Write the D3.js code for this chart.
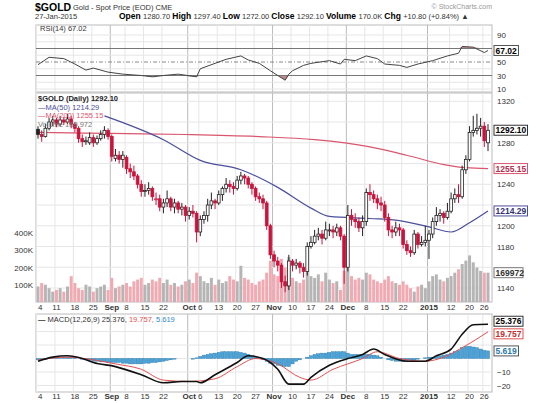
<!DOCTYPE html>
<html><head><meta charset="utf-8">
<script src="https://cdn.jsdelivr.net/npm/d3@7"></script>
<style>
body{margin:0;background:#fff;}
text{font-family:"Liberation Sans",Arial,sans-serif;}
.tick text{font-size:8px;fill:#333;}
.tick line{stroke:none;}
.domain{display:none;}
</style></head>
<body><svg id="chart" width="550" height="403"></svg>
<script>
// daily OHLC, Aug 4 2014 .. Jan 27 2015
var ohlc = [
  [1293,1296,1284,1288],[1288,1292,1281,1286],[1286,1298,1285,1294],[1294,1304,1292,1300],[1300,1306,1296,1302],
  [1302,1304,1295,1298],[1298,1306,1296,1302],[1302,1305,1297,1300],[1300,1308,1298,1303],[1303,1306,1294,1298],
  [1298,1300,1290,1294],[1294,1296,1280,1284],[1284,1288,1276,1281],[1281,1286,1278,1282],[1280,1290,1278,1285],
  [1285,1288,1276,1280],[1280,1287,1278,1284],[1284,1292,1282,1288],[1288,1296,1284,1292],[1292,1294,1283,1286],
  [1286,1288,1262,1267],[1265,1274,1262,1268],[1268,1272,1260,1264],[1264,1272,1256,1268],
  [1266,1268,1250,1255],[1255,1260,1246,1252],[1252,1258,1244,1248],[1248,1250,1236,1240],[1240,1244,1228,1233],
  [1233,1240,1228,1234],[1234,1242,1230,1236],[1236,1238,1224,1228],[1226,1232,1220,1226],[1226,1230,1214,1218],
  [1218,1226,1212,1222],[1222,1234,1218,1226],[1226,1228,1214,1218],[1218,1226,1212,1222],[1222,1224,1212,1216],
  [1216,1222,1210,1218],[1218,1220,1204,1210],[1210,1218,1206,1214],[1214,1220,1208,1212],[1212,1214,1184,1194],
  [1194,1210,1190,1206],[1206,1214,1202,1210],[1210,1226,1204,1220],[1220,1232,1216,1224],[1224,1226,1216,1222],
  [1222,1234,1220,1230],[1230,1238,1224,1236],[1236,1246,1232,1240],[1240,1244,1232,1238],[1238,1242,1230,1236],
  [1236,1248,1234,1244],[1244,1252,1240,1248],[1248,1250,1240,1246],[1246,1248,1236,1240],[1240,1242,1230,1236],
  [1236,1238,1224,1228],[1228,1232,1222,1226],[1226,1230,1216,1222],[1222,1224,1196,1200],[1200,1202,1168,1172],
  [1172,1176,1160,1166],[1166,1170,1156,1162],[1162,1164,1140,1146],[1146,1152,1136,1142],[1142,1172,1138,1166],
  [1166,1168,1156,1162],[1162,1168,1158,1164],[1164,1166,1154,1160],[1160,1164,1150,1156],[1156,1184,1152,1180],
  [1180,1190,1178,1184],[1184,1196,1182,1190],[1190,1198,1186,1192],[1192,1196,1182,1188],[1188,1204,1186,1196],
  [1196,1202,1190,1196],[1196,1200,1188,1194],[1194,1202,1190,1198],[1198,1200,1186,1190],[1190,1192,1144,1160],
  [1160,1220,1156,1210],[1210,1216,1200,1206],[1206,1212,1198,1204],[1204,1208,1194,1198],[1198,1210,1190,1204],
  [1204,1236,1200,1232],[1232,1240,1224,1230],[1230,1234,1222,1226],[1226,1230,1216,1222],[1222,1228,1214,1220],
  [1220,1224,1204,1208],[1208,1212,1190,1196],[1196,1200,1188,1194],[1194,1204,1190,1198],[1198,1202,1190,1196],
  [1196,1198,1178,1182],[1182,1186,1172,1176],[1176,1180,1170,1174],[1174,1196,1172,1192],
  [1192,1194,1178,1182],[1182,1190,1180,1184],[1184,1200,1180,1186],[1186,1196,1168,1192],
  [1192,1208,1188,1204],[1204,1218,1200,1210],[1210,1216,1204,1212],[1212,1214,1202,1208],[1208,1222,1206,1214],
  [1214,1232,1212,1226],[1226,1236,1222,1230],[1230,1240,1222,1228],[1228,1258,1226,1254],[1254,1268,1250,1264],
  [1264,1296,1262,1290],[1290,1306,1286,1292],[1292,1308,1288,1294],[1294,1304,1286,1296],
  [1296,1300,1276,1282],[1280,1298,1272,1292]
];
// volume, thousands
var volume = [
  90,110,100,80,60, 70,80,60,90,150, 110,80,70,100,90, 60,80,90,100,70,
  140,80,90,100, 110,90,120,130,140, 100,110,130,120,140, 110,130,100,110,90,
  100,120,130,110,170, 150,120,110,140,100, 130,110,120,150,130, 120,210,140,130,110,
  100,120,130,170,240, 160,150,250,200,260, 140,120,110,130,180, 150,140,160,120,170,
  130,110,120,70,180, 220,150,130,140,130, 170,160,130,120,110, 130,150,120,110,100,
  120,100,80,60, 90,100,80,120, 150,160,130,120,140, 150,170,190,220,240,
  270,230,200,180, 170,170
];
var holidays = ["2014-09-01", "2014-12-25", "2015-01-01", "2015-01-19"];
// indicator readings [day index, value]
var rsi = [[0,46],[3,57],[7,55],[10,47],[13,38],[15,41],[19,35],[23,32],[28,30],[31,28],[34,30],[38,32],
  [43,28],[44,40],[48,48],[51,54],[55,59],[57,53],[60,48],[63,37],[65,30],[67,23],[68,32],[69,37],[72,45],
  [74,48],[79,52],[82,47],[83,54],[86,52],[89,59],[92,55],[94,47],[98,45],[100,42],[103,47],[107,52],
  [111,59],[114,63],[115,73],[118,72],[121,64],[122,67.02]];
var ma50 = [[18,1306],[34,1283],[44,1263],[55,1254],[65,1237],[74,1217],[79,1209],[90,1207],[98,1205],
  [106,1199],[112,1194],[117,1203],[122,1214.29]];
var ma200 = [[0,1290],[20,1289],[40,1288],[60,1286],[75,1283],[90,1276],[100,1268],[110,1259],[116,1256],[122,1255.15]];
var macd = [[0,-2],[4,1],[8,2],[12,0],[15,-3],[21,-6],[28,-12],[34,-18],[39,-17],[43,-17],[44,-18],[48,-12],
  [54,-3],[57,2],[61,0],[65,-8],[68,-19],[72,-19],[74,-14],[79,-5],[84,0],[88,3],[91,7],[94,3],[100,-2],
  [105,-2],[108,2],[112,7],[115,18],[118,25],[122,25.376]];
var signal = [[0,-1],[8,1],[15,-1],[21,-4],[28,-8],[34,-16],[41,-17],[48,-15],[54,-6],[59,0],[65,-4],
  [71,-14],[74,-16],[80,-8],[88,0],[92,5],[98,0],[105,-2],[110,1],[115,8],[122,19.757]];
var hist = [
  -1,-1,-0.5,0,0.3,0.6,0.8,1, 1,0.8,0.5,0,-0.5,-1, -1.5,-2,-2,-2.5,-2.5,-3,-3,
  -3,-3,-3.5,-3.5,-4,-4,-4, -4,-3.5,-3.5,-3,-3,-2.5,-2, -1.5,-1,-0.5,0,0,0,
  0,-0.5,0.5,1.5,2.5,3, 3.5,4,4.5,5,5, 5,5,5,4.5,4,3,2, 1,0,-1,-2,-3.5,
  -4,-5,-5.5,-6,-6, -4,-2,-1,0, 1,2,3,3.5,4,4,4.5, 5,5,5,5,4,3,3,3,
  3,3,3,2.5,2,1, 0,-1,-1.5,-2,-2, -2,-1.5,-1,-1,-0.5,0,0.5,1,
  1,1.5,2,2.5,3,4,5,6, 8,9,9,8.5,8,7,6,5.619
];
var priceTicks = [1140,1160,1180,1200,1220,1240,1260,1280,1300,1320];
var volTicks = [100,200,300,400];
var rsiTicks = [10,30,50,90];
var macdTicks = [-20,-10,0,10];

// trading days
var dates = [];
for (var d = new Date(2014, 7, 4); d <= new Date(2015, 0, 27); d.setDate(d.getDate() + 1)) {
  var iso = d3.timeFormat("%Y-%m-%d")(d);
  if (d.getDay() > 0 && d.getDay() < 6 && holidays.indexOf(iso) < 0) dates.push(new Date(d));
}
var N = ohlc.length;

var svg = d3.select("#chart");
var L = 36, R = 492;
var x = d3.scaleLinear().domain([0, N - 1]).range([L + 2, R - 4]);

// date labels: month name on first trading day, weekly otherwise
var dateLabels = [];
dates.forEach(function(dt, i) {
  var prev = dates[i - 1];
  var last = dateLabels[dateLabels.length - 1];
  if (!prev) {
    dateLabels.push([i, "4", false]);
  } else if (dt.getMonth() != prev.getMonth()) {
    if (last && i - last[0] < 4) dateLabels.pop();
    dateLabels.push([i, dt.getMonth() == 0 ? "2015" : d3.timeFormat("%b")(dt), true]);
  } else if (prev.getDay() >= dt.getDay()) {
    if (i - last[0] >= 3) dateLabels.push([i, String(dt.getDate()), false]);
  }
});

function panel(top, bottom) {
  var g = svg.append("g");
  g.append("rect").attr("x", L).attr("y", top).attr("width", R - L).attr("height", bottom - top)
    .attr("fill", "#fff").attr("stroke", "#bbb");
  dateLabels.forEach(function(dl) {
    g.append("line").attr("x1", x(dl[0]) - 1.5).attr("x2", x(dl[0]) - 1.5).attr("y1", top).attr("y2", bottom)
      .attr("stroke", dl[2] ? "#bbb" : "#e6e6e6");
  });
  return g;
}
function hgrid(g, y, ticks, color) {
  ticks.forEach(function(t) {
    g.append("line").attr("x1", L).attr("x2", R).attr("y1", y(t)).attr("y2", y(t)).attr("stroke", color || "#e6e6e6");
  });
}
function dateAxis(yPos) {
  dateLabels.forEach(function(dl) {
    svg.append("text").attr("x", x(dl[0])).attr("y", yPos).attr("text-anchor", dl[0] == 0 ? "start" : "middle")
      .attr("font-size", 8).attr("font-weight", dl[2] ? "bold" : "normal").attr("fill", "#333").text(dl[1]);
  });
}
function tag(xp, yp, txt, stroke, color) {
  var w = txt.length * 4.5 + 2;
  svg.append("rect").attr("x", xp).attr("y", yp - 5).attr("width", w).attr("height", 10)
    .attr("fill", "#fff").attr("stroke", stroke);
  svg.append("text").attr("x", xp + 1.5).attr("y", yp + 3).attr("font-size", 8.5).attr("fill", color || "#000")
    .attr("font-weight", "bold").text(txt);
}
function rightAxis(y, ticks, tagVals) {
  var t = ticks.filter(function(v) {
    return tagVals.every(function(tv) { return Math.abs(y(v) - y(tv)) > 9.5; });
  });
  svg.append("g").attr("transform", "translate(" + (R + 2) + ",0)")
    .call(d3.axisRight(y).tickValues(t).tickSize(0).tickPadding(3).tickFormat(d3.format("d")));
}

// header
svg.append("text").attr("x", 35).attr("y", 11).attr("font-size", 10.5).attr("font-weight", "bold").text("$GOLD");
svg.append("text").attr("x", 73).attr("y", 10).attr("font-size", 7.5).attr("fill", "#333").text("Gold - Spot Price (EOD) CME");
svg.append("text").attr("x", 492).attr("y", 9).attr("font-size", 7).attr("fill", "#999").attr("text-anchor", "end").text("© StockCharts.com");
svg.append("text").attr("x", 35).attr("y", 19).attr("font-size", 7.5).attr("fill", "#333").text("27-Jan-2015");
var info = [["Open", "1280.70"], ["High", "1297.40"], ["Low", "1272.00"], ["Close", "1292.10"], ["Volume", "170.0K"], ["Chg", "+10.80 (+0.84%) ▲"]];
var hdr = svg.append("text").attr("x", 119).attr("y", 19).attr("font-size", 7.5).attr("fill", "#333");
info.forEach(function(p) {
  hdr.append("tspan").attr("font-weight", "bold").attr("font-size", 8.5).attr("fill", "#000").text(p[0] + " ");
  hdr.append("tspan").text(p[1] + "  ");
});

// RSI panel
var yR = d3.scaleLinear().domain([0, 100]).range([95.75, 28.25]);
var gR = panel(25, 92);
hgrid(gR, yR, [10, 20, 40, 60, 80, 90]);
var below = d3.area().x(function(d) { return x(d[0]); }).y0(yR(30)).y1(function(d) { return yR(Math.min(d[1], 30)); });
var above = d3.area().x(function(d) { return x(d[0]); }).y0(yR(70)).y1(function(d) { return yR(Math.max(d[1], 70)); });
gR.append("path").datum(rsi).attr("d", below).attr("fill", "#a0525a").attr("opacity", 0.7);
gR.append("path").datum(rsi).attr("d", above).attr("fill", "#a0525a").attr("opacity", 0.7);
gR.append("line").attr("x1", L).attr("x2", R).attr("y1", yR(70)).attr("y2", yR(70)).attr("stroke", "#777");
gR.append("line").attr("x1", L).attr("x2", R).attr("y1", yR(30)).attr("y2", yR(30)).attr("stroke", "#777");
gR.append("line").attr("x1", L).attr("x2", R).attr("y1", yR(50)).attr("y2", yR(50)).attr("stroke", "#888").attr("stroke-dasharray", "4,2,1,2");
gR.append("path").datum(rsi).attr("fill", "none").attr("stroke", "#444").attr("stroke-width", 1)
  .attr("d", d3.line().x(function(d) { return x(d[0]); }).y(function(d) { return yR(d[1]); }));
rightAxis(yR, rsiTicks, [67.02]);
svg.append("text").attr("x", 40).attr("y", 31).attr("font-size", 7.5).attr("fill", "#333").text("RSI(14) 67.02");
tag(R + 2, yR(67.02), "67.02", "#555");

// price panel
var yP = d3.scaleLinear().domain([1140, 1320]).range([288, 101.3]);
var yV = d3.scaleLinear().domain([0, 400]).range([302, 233]);
var gP = panel(93, 302);
hgrid(gP, yP, priceTicks);
var bw = 3;
gP.selectAll(".vol").data(volume).enter().append("rect")
  .attr("x", function(d, i) { return x(i) - bw / 2; }).attr("width", bw)
  .attr("y", function(d) { return yV(d); }).attr("height", function(d) { return 302 - yV(d); })
  .attr("fill", function(d, i) { return i > 0 && ohlc[i][3] < ohlc[i - 1][3] ? "#f2aab2" : "#b5b5b5"; });
var maLine = d3.line().x(function(d) { return x(d[0]); }).y(function(d) { return yP(d[1]); }).curve(d3.curveMonotoneX);
gP.append("path").datum(ma200).attr("d", maLine).attr("fill", "none").attr("stroke", "#d9566e").attr("stroke-width", 1.2);
gP.append("path").datum(ma50).attr("d", maLine).attr("fill", "none").attr("stroke", "#4b4f9c").attr("stroke-width", 1.2);
var cg = gP.selectAll(".c").data(ohlc).enter().append("g");
function ccol(d, i) { return i > 0 && d[3] < ohlc[i - 1][3] ? "#c8143c" : "#222"; }
cg.append("line").attr("x1", function(d, i) { return x(i); }).attr("x2", function(d, i) { return x(i); })
  .attr("y1", function(d) { return yP(d[1]); }).attr("y2", function(d) { return yP(d[2]); }).attr("stroke", ccol);
cg.append("rect").attr("x", function(d, i) { return x(i) - 1.4; }).attr("width", 2.8)
  .attr("y", function(d) { return yP(Math.max(d[0], d[3])); })
  .attr("height", function(d) { return Math.max(1, Math.abs(yP(d[0]) - yP(d[3]))); })
  .attr("fill", function(d, i) { return d[3] < d[0] ? ccol(d, i) : "#fff"; }).attr("stroke", ccol).attr("stroke-width", 0.8);
rightAxis(yP, priceTicks, [1292.1, 1255.15, 1214.29, yP.invert(yV(169.972))]);
svg.append("g").attr("transform", "translate(" + (L - 1) + ",0)").call(d3.axisLeft(yV).tickValues(volTicks).tickSize(0).tickPadding(2).tickFormat(function(v) { return v + "K"; }));
var leg = [["$GOLD (Daily) 1292.10", "#222"], ["—MA(50) 1214.29", "#4b4f9c"], ["—MA(200) 1255.15", "#d9566e"], ["Volume 169,972", "#777"]];
leg.forEach(function(l, i) {
  svg.append("text").attr("x", 38).attr("y", 101 + i * 8.5).attr("font-size", 7.5).attr("fill", l[1])
    .attr("font-weight", i == 0 ? "bold" : "normal").text(l[0]);
});
tag(R + 2, yP(1292.1), "1292.10", "#333");
tag(R + 2, yP(1255.15), "1255.15", "#d9566e", "#b03050");
tag(R + 2, yP(1214.29), "1214.29", "#4b4f9c", "#333370");
tag(R + 2, yV(169.972), "169972", "#777", "#333");
dateAxis(310);

// MACD panel
var yM = d3.scaleLinear().domain([0, 10]).range([358.5, 345]);
var gM = panel(314, 392);
hgrid(gM, yM, [-20, -10, 0, 10, 20]);
gM.selectAll(".h").data(hist).enter().append("rect")
  .attr("x", function(d, i) { return x(i) - 1.6; }).attr("width", 3.2)
  .attr("y", function(d) { return yM(Math.max(0, d)); }).attr("height", function(d) { return Math.abs(yM(d) - yM(0)); })
  .attr("fill", "#4aa3d8").attr("stroke", "#2a78a8").attr("stroke-width", 0.4);
var mLine = d3.line().x(function(d) { return x(d[0]); }).y(function(d) { return yM(d[1]); }).curve(d3.curveMonotoneX);
gM.append("path").datum(signal).attr("d", mLine).attr("fill", "none").attr("stroke", "#e25050").attr("stroke-width", 1);
gM.append("path").datum(macd).attr("d", mLine).attr("fill", "none").attr("stroke", "#111").attr("stroke-width", 1.6);
rightAxis(yM, macdTicks, [5.619]);
var ml = svg.append("text").attr("x", 38).attr("y", 322).attr("font-size", 7.5).attr("fill", "#333");
ml.append("tspan").attr("font-weight", "bold").text("— ");
ml.append("tspan").text("MACD(12,26,9) 25.376, ");
ml.append("tspan").attr("fill", "#e25050").text("19.757, ");
ml.append("tspan").attr("fill", "#2a8ac8").text("5.619");
tag(R + 2, yM(25.376) - 3, "25.376", "#333");
tag(R + 2, yM(19.757) + 2, "19.757", "#e25050", "#c03030");
tag(R + 2, yM(5.619), "5.619", "#555", "#2a78a8");
dateAxis(399);
</script></body></html>
